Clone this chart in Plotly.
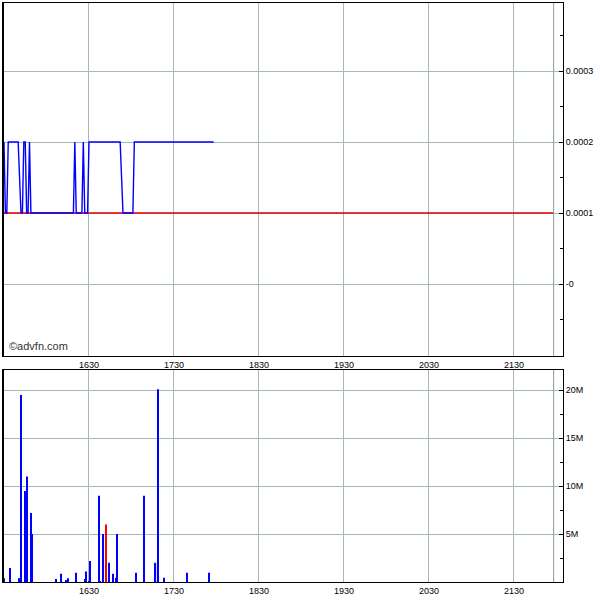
import plotly.graph_objects as go

DAY = "2024-01-01 "

# Price series (HH:MM, price)
price_times = ["15:29", "15:30", "15:31", "15:32", "15:33", "15:40", "15:42", "15:43",
               "15:44", "15:45", "15:46", "15:47", "15:48", "15:49", "16:19", "16:20",
               "16:21", "16:25", "16:26", "16:27", "16:29", "16:30", "16:52", "16:54",
               "17:01", "17:02", "17:58"]
price_values = [0.0001, 0.0002, 0.0001, 0.0001, 0.0002, 0.0002, 0.0001, 0.0001,
                0.0002, 0.0002, 0.0001, 0.0001, 0.0002, 0.0001, 0.0001, 0.0002,
                0.0001, 0.0001, 0.0002, 0.0001, 0.0001, 0.0002, 0.0002, 0.0001,
                0.0001, 0.0002, 0.0002]

# Previous close reference line
ref_times = ["15:29", "21:58"]
ref_values = [0.0001, 0.0001]

# Volume bars (HH:MM, shares, down-tick flag)
vol_times = ["15:30", "15:34", "15:41", "15:42", "15:45", "15:46", "15:49", "15:50",
             "16:07", "16:10", "16:14", "16:15", "16:21", "16:27", "16:28", "16:30",
             "16:31", "16:37", "16:38", "16:40", "16:42", "16:44", "16:47", "16:49",
             "16:50", "17:03", "17:09", "17:17", "17:19", "17:23", "17:39", "17:55"]
vol_values = [0.4e6, 1.46e6, 0.4e6, 19.5e6, 9.5e6, 11.0e6, 7.2e6, 5.0e6,
              0.3e6, 0.86e6, 0.15e6, 0.4e6, 0.97e6, 0.3e6, 1.1e6, 0.1e6,
              2.2e6, 9.0e6, 0.1e6, 5.0e6, 6.0e6, 2.0e6, 0.86e6, 0.45e6,
              5.0e6, 0.97e6, 9.0e6, 2.0e6, 20.1e6, 0.45e6, 0.97e6, 0.97e6]
vol_down = [False] * len(vol_times)
vol_down[vol_times.index("16:42")] = True

price_ticks = [0, 0.0001, 0.0002, 0.0003]
price_tick_text = ["-0", "0.0001", "0.0002", "0.0003"]
vol_ticks = [5e6, 10e6, 15e6, 20e6]
vol_tick_text = ["5M", "10M", "15M", "20M"]

x_range = [DAY + "15:29:18", DAY + "22:04:36"]
close_marker = DAY + "21:58"

GRID = "#a9b9b9"
FONT = dict(family="Liberation Sans, Arial, sans-serif", size=9, color="black")

fig = go.Figure()
fig.add_trace(go.Scatter(x=[DAY + t for t in ref_times], y=ref_values, mode="lines",
                         line=dict(color="#e00000", width=1.3), xaxis="x", yaxis="y",
                         showlegend=False, hoverinfo="skip"))
fig.add_trace(go.Scatter(x=[DAY + t for t in price_times], y=price_values, mode="lines",
                         line=dict(color="#0000ff", width=1.4), xaxis="x", yaxis="y",
                         showlegend=False))
fig.add_trace(go.Bar(x=[DAY + t for t in vol_times], y=vol_values,
                     width=[50000] * len(vol_times),
                     marker=dict(color=["#ff0000" if d else "#0000ff" for d in vol_down],
                                 line=dict(width=0)),
                     xaxis="x2", yaxis="y2", showlegend=False))

xcommon = dict(type="date", range=x_range, tick0=DAY + "16:30", dtick=3600000,
               tickformat="%H%M", showgrid=True, gridcolor=GRID, gridwidth=1,
               showline=True, linecolor="black", linewidth=1, mirror=True,
               ticks="", tickfont=FONT, zeroline=False)
fig.update_layout(
    width=600, height=600,
    margin=dict(l=3, r=37, t=3, b=18),
    paper_bgcolor="white", plot_bgcolor="white",
    font=FONT,
    xaxis=dict(domain=[0, 1], anchor="y", **xcommon),
    xaxis2=dict(domain=[0, 1], anchor="y2", **xcommon),
    yaxis=dict(domain=[0.3903, 1], anchor="x", side="right",
               range=[-0.0001014, 0.0003958], tickvals=price_ticks,
               ticktext=price_tick_text, showgrid=True, gridcolor=GRID,
               showline=True, linecolor="black", linewidth=1, mirror=True,
               ticks="inside", ticklen=4, tickcolor="black", zeroline=False,
               tickfont=FONT, automargin=False,
               minor=dict(tick0=0, dtick=0.00005, ticks="inside", ticklen=3,
                          tickcolor="black", showgrid=False)),
    yaxis2=dict(domain=[0, 0.3661], anchor="x2", side="right",
                range=[0, 22.1e6], tickvals=vol_ticks, ticktext=vol_tick_text,
                showgrid=True, gridcolor=GRID,
                showline=True, linecolor="black", linewidth=1, mirror=True,
                ticks="inside", ticklen=4, tickcolor="black", zeroline=False,
                tickfont=FONT, automargin=False,
                minor=dict(tick0=0, dtick=2.5e6, ticks="inside", ticklen=3,
                           tickcolor="black", showgrid=False)),
    shapes=[
        dict(type="line", xref="x", yref="y domain", x0=close_marker, x1=close_marker,
             y0=0, y1=1, line=dict(color="#8c9c9c", width=1)),
        dict(type="line", xref="x2", yref="y2 domain", x0=close_marker, x1=close_marker,
             y0=0, y1=1, line=dict(color="#8c9c9c", width=1)),
        dict(type="line", xref="x domain", yref="y domain", x0=0, x1=0,
             y0=0, y1=1, line=dict(color="black", width=2)),
        dict(type="line", xref="x2 domain", yref="y2 domain", x0=0, x1=0,
             y0=0, y1=1, line=dict(color="black", width=2)),
    ],
    annotations=[
        dict(text="©advfn.com", xref="x domain", yref="y domain", x=0.008, y=0.005,
             xanchor="left", yanchor="bottom", showarrow=False,
             font=dict(family="Liberation Sans, Arial, sans-serif", size=11,
                       color="#333333")),
    ],
)

fig.write_html("out.html", config={"displayModeBar": False},
               post_script="document.body.style.margin='0';document.body.style.padding='0';")
